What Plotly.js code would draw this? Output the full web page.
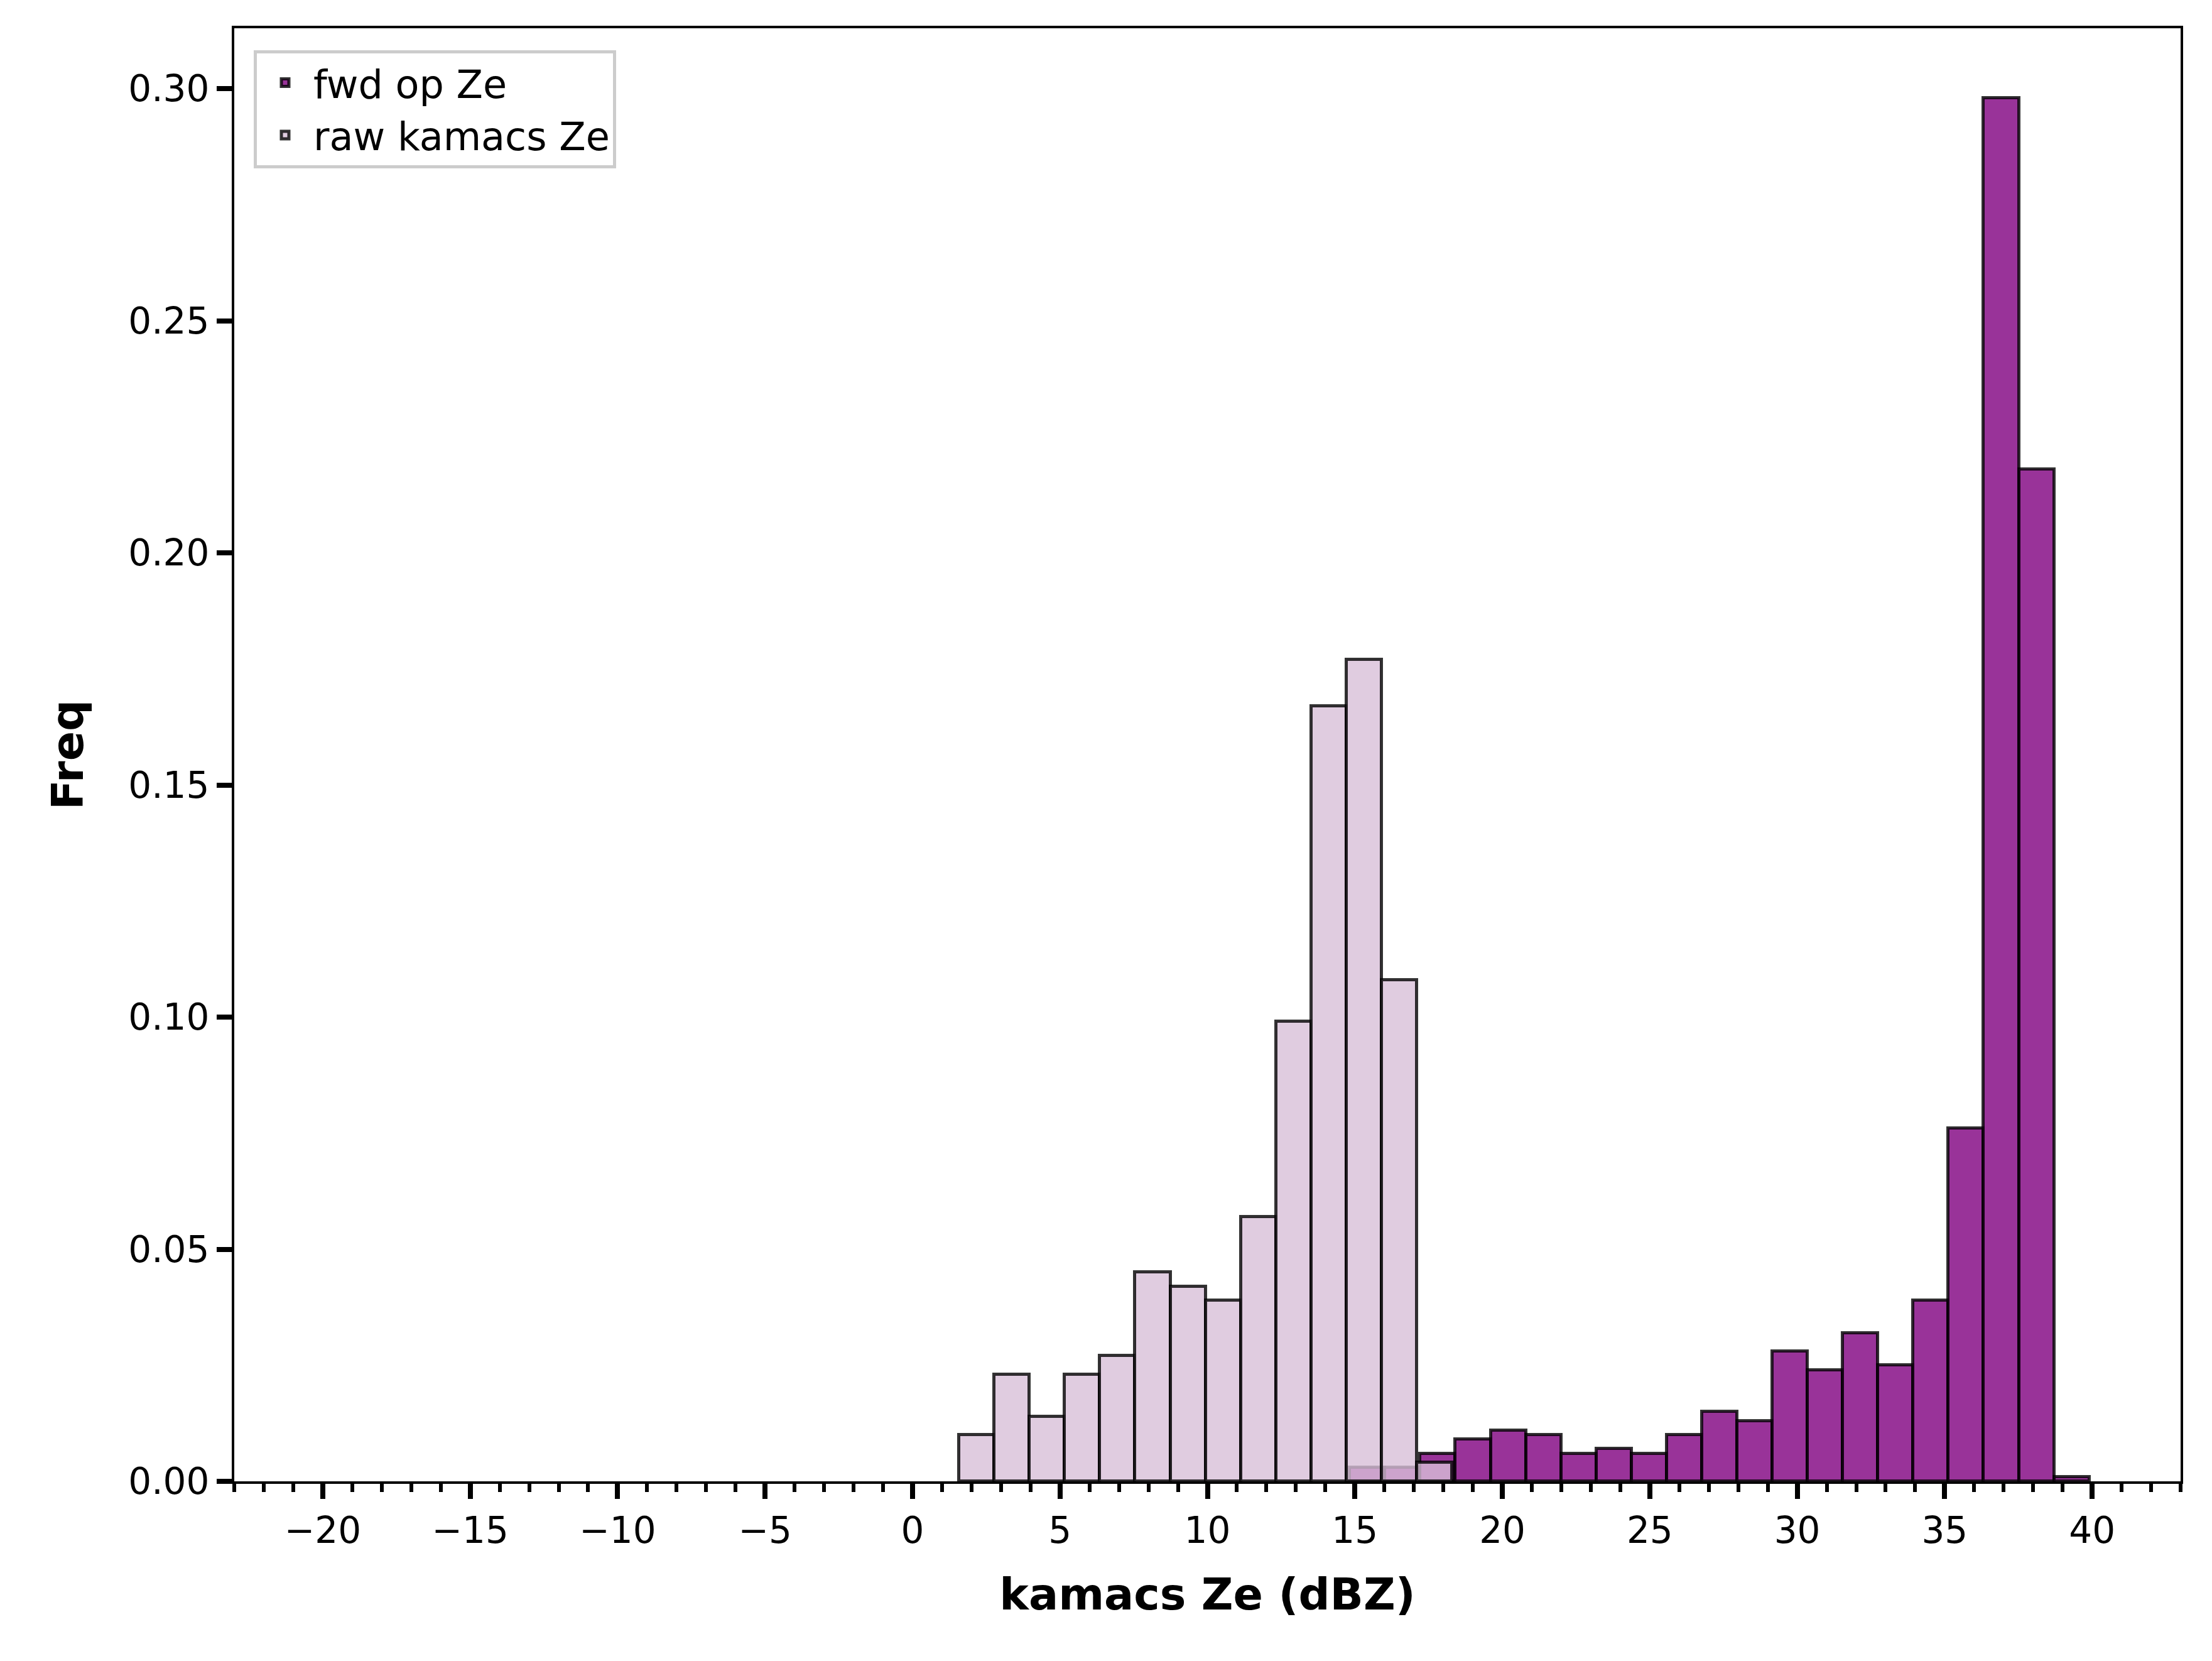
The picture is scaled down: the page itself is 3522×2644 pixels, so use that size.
<html><head><script src="https://cdn.plot.ly/plotly-3.0.1.min.js"></script>
<style>body{margin:0;background:#fff}</style></head><body>
<div id="plot" style="width:3522px;height:2644px"></div>
<script>
// bin layout
var binWidth = 1.194
var rawStart = 1.58
var fwdStart = 14.83

var rawFreq = [0.010, 0.023, 0.014, 0.023, 0.027, 0.045, 0.042, 0.039, 0.057, 0.099, 0.167, 0.177, 0.108, 0.004]
var fwdFreq = [0.003, 0.003, 0.006, 0.009, 0.011, 0.010, 0.006, 0.007, 0.006, 0.010, 0.015, 0.013,
               0.028, 0.024, 0.032, 0.025, 0.039, 0.076, 0.298, 0.218, 0.001]

function centers(start, n){
  let c = []
  for(let i = 0; i<n; i++){ c.push(start + binWidth*(i + 0.5)) }
  return c
}

var fwd = {
  x: centers(fwdStart, fwdFreq.length), y: fwdFreq, type: 'bar', width: binWidth,
  name: 'fwd op Ze',
  marker: {color: 'rgba(128,0,128,0.8)', line: {color: 'rgba(0,0,0,0.8)', width: 5}}
}
var raw = {
  x: centers(rawStart, rawFreq.length), y: rawFreq, type: 'bar', width: binWidth,
  name: 'raw kamacs Ze',
  marker: {color: 'rgba(216,191,216,0.8)', line: {color: 'rgba(0,0,0,0.8)', width: 5}}
}

var tickFont = {family: 'DejaVu Sans', size: 58, color: '#000'}
var layout = {
  barmode: 'overlay', bargap: 0,
  paper_bgcolor: '#fff', plot_bgcolor: '#fff',
  margin: {l: 373, r: 50, t: 45, b: 286},
  showlegend: true,
  legend: {x: 0.01, y: 0.985, xanchor: 'left', yanchor: 'top', traceorder: 'normal', itemwidth: 80,
           bordercolor: '#ccc', borderwidth: 5, font: {family: 'DejaVu Sans', size: 62, color: '#000'}},
  xaxis: {range: [-23, 43], tickvals: [-20,-15,-10,-5,0,5,10,15,20,25,30,35,40],
          ticktext: ['\u221220','\u221215','\u221210','\u22125','0','5','10','15','20','25','30','35','40'],
          ticks: 'outside', ticklen: 24, tickwidth: 8, tickcolor: '#000', showgrid: false, zeroline: false,
          minor: {dtick: 1, ticks: 'outside', ticklen: 13, tickwidth: 6, tickcolor: '#000', showgrid: false},
          showline: true, linecolor: '#000', linewidth: 4, mirror: true, tickfont: tickFont,
          title: {text: '<b>kamacs Ze (dBZ)</b>', font: {family: 'DejaVu Sans', size: 70, color: '#000'}, standoff: 45}},
  yaxis: {range: [0, 0.313], tickvals: [0,0.05,0.1,0.15,0.2,0.25,0.3],
          ticktext: ['0.00','0.05','0.10','0.15','0.20','0.25','0.30'],
          ticks: 'outside', ticklen: 24, tickwidth: 8, tickcolor: '#000', showgrid: false, zeroline: false,
          showline: true, linecolor: '#000', linewidth: 4, mirror: true, tickfont: tickFont,
          title: {text: '<b>Freq</b>', font: {family: 'DejaVu Sans', size: 70, color: '#000'}, standoff: 50}}
}

Plotly.newPlot('plot', [fwd, raw], layout, {displayModeBar: false})
</script></body></html>
